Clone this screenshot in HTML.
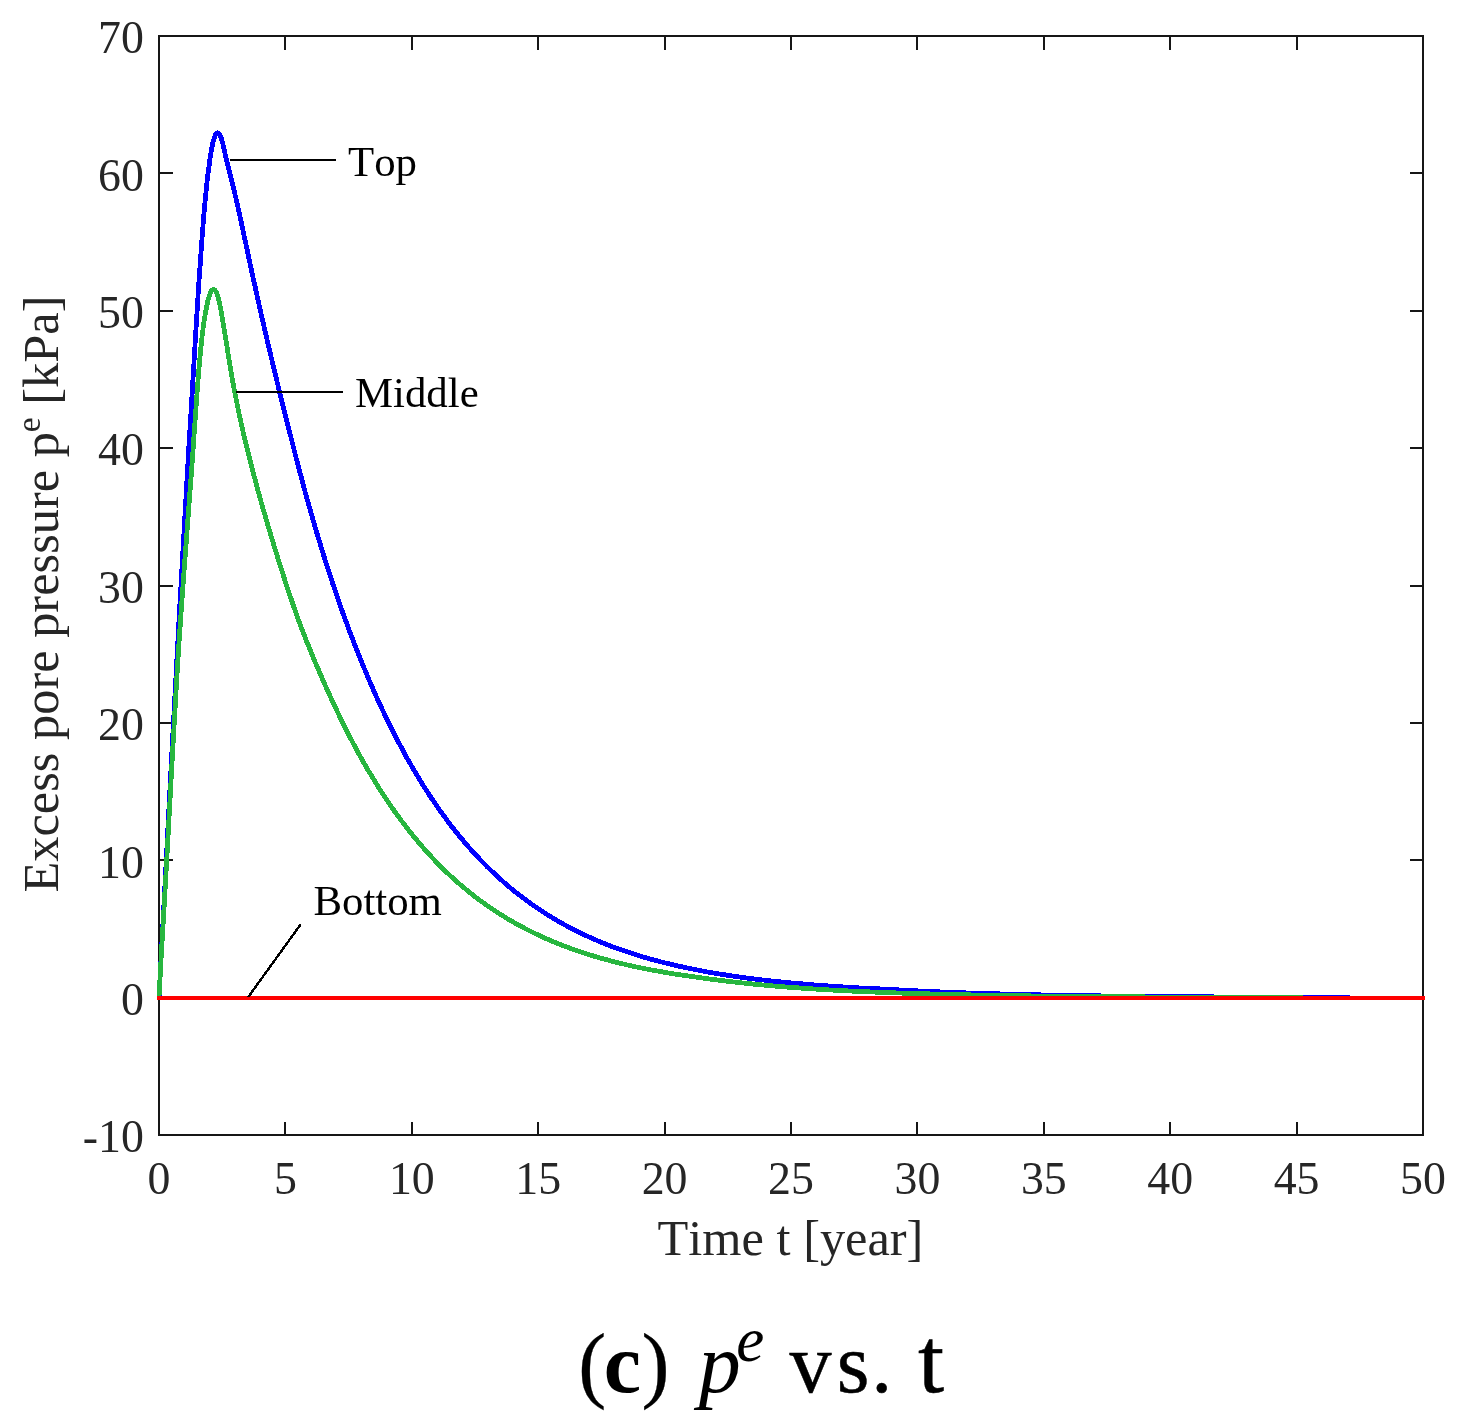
<!DOCTYPE html>
<html lang="en"><head><meta charset="utf-8"><title>(c) pe vs. t</title>
<style>
html,body{margin:0;padding:0;background:#fff}
body{width:1473px;height:1422px;overflow:hidden}
svg{display:block}
text{font-family:"Liberation Serif","Times New Roman",Times,serif;font-kerning:none}
.tk{font-size:45.83px;fill:#262626}
.lb{font-size:50.4px;fill:#262626}
.an{font-size:42.8px;fill:#000}
.cap{font-size:84px;fill:#000}
</style></head><body>
<svg width="1473" height="1422" viewBox="0 0 1473 1422">
<rect width="1473" height="1422" fill="#fff"/>
<g fill="none" stroke="#161616" stroke-width="2" shape-rendering="crispEdges">
<rect x="159" y="36" width="1264" height="1099"/>
<path d="M285.00,1135 v-12.9 M285.00,36 v13.9 M412.00,1135 v-12.9 M412.00,36 v13.9 M538.00,1135 v-12.9 M538.00,36 v13.9 M665.00,1135 v-12.9 M665.00,36 v13.9 M791.00,1135 v-12.9 M791.00,36 v13.9 M917.00,1135 v-12.9 M917.00,36 v13.9 M1044.00,1135 v-12.9 M1044.00,36 v13.9 M1170.00,1135 v-12.9 M1170.00,36 v13.9 M1297.00,1135 v-12.9 M1297.00,36 v13.9 M159,998.00 h13.9 M1423,998.00 h-12.9 M159,860.00 h13.9 M1423,860.00 h-12.9 M159,723.00 h13.9 M1423,723.00 h-12.9 M159,586.00 h13.9 M1423,586.00 h-12.9 M159,448.00 h13.9 M1423,448.00 h-12.9 M159,311.00 h13.9 M1423,311.00 h-12.9 M159,173.00 h13.9 M1423,173.00 h-12.9"/>
</g>
<g fill="none" stroke-width="4.8" stroke-linejoin="round" shape-rendering="crispEdges">
<path stroke="#0000ff" d="M159.0,997.6 161.5,949.8 164.1,901.7 166.6,853.6 169.1,805.4 171.6,757.4 174.2,709.8 176.7,662.9 179.2,616.8 181.8,571.5 184.3,527.0 186.8,483.2 189.3,440.0 191.9,397.4 194.4,355.4 196.9,314.0 197.4,306.0 197.9,298.0 198.4,290.1 198.9,282.3 199.4,274.7 200.0,267.2 200.5,259.8 201.0,252.6 201.5,245.6 202.0,238.8 202.5,232.1 203.0,225.7 203.5,219.5 204.0,213.6 204.5,207.8 205.0,202.3 205.5,197.0 206.0,191.9 206.5,187.0 207.0,182.3 207.5,177.8 208.0,173.5 208.5,169.5 209.1,165.6 209.6,161.9 210.1,158.4 210.6,155.0 211.1,151.9 211.6,149.0 212.1,146.4 212.6,144.0 213.1,141.8 213.6,139.9 214.1,138.2 214.6,136.8 215.1,135.6 215.6,134.6 216.1,133.9 216.6,133.4 217.1,133.1 217.6,132.9 218.2,133.0 218.7,133.3 219.2,133.8 219.7,134.5 220.2,135.5 220.7,136.7 221.2,138.0 221.7,139.6 222.2,141.4 222.7,143.3 223.2,145.4 223.7,147.5 224.2,149.7 224.7,152.0 225.2,154.2 225.7,156.5 226.2,158.7 226.8,160.8 227.3,162.9 227.8,165.0 228.3,167.0 228.8,169.0 229.3,171.1 229.8,173.0 230.3,175.0 230.8,177.0 231.3,179.0 231.8,181.0 232.3,183.1 232.8,185.1 233.3,187.2 233.8,189.3 234.3,191.4 234.8,193.6 235.3,195.7 235.9,197.9 236.4,200.1 236.9,202.4 237.4,204.6 237.9,206.9 238.4,209.1 238.9,211.4 239.4,213.7 239.9,216.0 240.4,218.3 240.9,220.7 241.4,223.0 241.9,225.4 242.4,227.7 242.9,230.1 243.4,232.5 243.9,234.8 244.4,237.2 245.0,239.6 247.5,251.5 250.0,263.4 252.5,275.2 255.1,286.7 257.6,298.1 260.1,309.4 262.6,320.5 265.2,331.5 267.7,342.4 270.2,353.1 272.8,363.8 275.3,374.3 277.8,384.7 280.3,395.0 282.9,405.2 285.4,415.4 287.9,425.5 290.5,435.5 293.0,445.5 295.5,455.4 298.0,465.2 300.6,474.8 303.1,484.3 305.6,493.7 308.2,502.8 310.7,511.8 313.2,520.6 315.7,529.2 318.3,537.7 320.8,546.0 323.3,554.2 325.8,562.2 328.4,570.2 330.9,578.0 333.4,585.6 336.0,593.1 338.5,600.5 341.0,607.7 343.5,614.8 346.1,621.7 348.6,628.6 351.1,635.3 353.7,641.9 356.2,648.5 358.7,654.9 361.2,661.2 363.8,667.3 366.3,673.4 368.8,679.4 371.4,685.3 373.9,691.0 376.4,696.7 378.9,702.3 381.5,707.8 384.0,713.1 386.5,718.4 389.0,723.6 391.6,728.7 394.1,733.7 396.6,738.6 399.2,743.5 401.7,748.2 404.2,752.9 406.7,757.5 409.3,762.0 411.8,766.4 414.3,770.7 416.9,775.0 419.4,779.2 421.9,783.3 424.4,787.3 427.0,791.3 429.5,795.2 432.0,799.0 434.6,802.7 437.1,806.4 439.6,810.0 442.1,813.6 444.7,817.0 447.2,820.5 449.7,823.8 452.2,827.1 454.8,830.3 457.3,833.5 459.8,836.6 462.4,839.7 468.7,847.1 475.0,854.1 481.3,860.8 487.6,867.2 494.0,873.3 500.3,879.1 506.6,884.7 512.9,890.0 519.2,895.0 525.6,899.8 531.9,904.4 538.2,908.7 544.5,912.9 550.8,916.8 557.2,920.6 563.5,924.2 569.8,927.6 576.1,930.8 582.4,933.9 588.8,936.9 595.1,939.7 601.4,942.3 607.7,944.9 614.0,947.3 620.4,949.6 626.7,951.7 633.0,953.8 639.3,955.8 645.6,957.7 652.0,959.5 658.3,961.2 664.6,962.8 670.9,964.3 677.2,965.8 683.6,967.2 689.9,968.5 696.2,969.8 702.5,971.0 708.8,972.2 715.2,973.3 721.5,974.3 727.8,975.3 734.1,976.2 740.4,977.1 746.8,978.0 753.1,978.8 759.4,979.6 765.7,980.3 772.0,981.0 778.4,981.7 784.7,982.3 791.0,982.9 797.3,983.5 803.6,984.0 810.0,984.6 816.3,985.1 822.6,985.5 828.9,986.0 835.2,986.4 841.6,986.8 847.9,987.2 854.2,987.6 860.5,988.0 866.8,988.3 873.2,988.6 879.5,988.9 885.8,989.2 892.1,989.5 898.4,989.9 904.8,990.2 911.1,990.5 917.4,990.9 923.7,991.2 930.0,991.5 936.4,991.8 942.7,992.0 949.0,992.3 955.3,992.5 961.6,992.7 968.0,993.0 974.3,993.2 980.6,993.4 986.9,993.6 993.2,993.8 999.6,993.9 1005.9,994.1 1012.2,994.3 1018.5,994.4 1024.8,994.6 1031.2,994.7 1037.5,994.8 1043.8,995.0 1050.1,995.1 1056.4,995.2 1062.8,995.3 1069.1,995.4 1075.4,995.5 1081.7,995.6 1088.0,995.7 1094.4,995.8 1100.7,995.9 1107.0,996.0 1113.3,996.0 1119.6,996.1 1126.0,996.2 1132.3,996.2 1138.6,996.3 1144.9,996.4 1151.2,996.4 1157.6,996.5 1163.9,996.5 1170.2,996.6 1176.5,996.6 1182.8,996.7 1189.2,996.7 1195.5,996.8 1201.8,996.8 1208.1,996.8 1214.4,996.9 1220.8,996.9 1227.1,996.9 1233.4,997.0 1239.7,997.0 1246.0,997.0 1252.4,997.1 1258.7,997.1 1265.0,997.1 1271.3,997.1 1277.6,997.1 1284.0,997.2 1290.3,997.2 1296.6,997.2 1302.9,997.2 1309.2,997.2 1315.6,997.3 1321.9,997.3 1328.2,997.3 1334.5,997.3 1340.8,997.3 1347.2,997.3 1349.7,997.3"/>
<path stroke="#27b63f" d="M159.0,997.6 161.5,951.3 164.1,906.8 166.6,862.4 169.1,816.7 171.6,769.9 174.2,723.5 176.7,679.6 179.2,639.5 181.8,602.6 184.3,567.8 186.8,534.2 189.3,500.6 191.9,466.2 194.4,430.3 196.9,395.1 197.4,388.4 197.9,381.8 198.4,375.4 198.9,369.2 199.4,363.2 200.0,357.5 200.5,352.0 201.0,346.7 201.5,341.8 202.0,337.2 202.5,332.9 203.0,329.0 203.5,325.3 204.0,321.9 204.5,318.6 205.0,315.6 205.5,312.7 206.0,310.0 206.5,307.4 207.0,304.9 207.5,302.5 208.0,300.3 208.5,298.3 209.1,296.5 209.6,294.9 210.1,293.5 210.6,292.3 211.1,291.4 211.6,290.6 212.1,290.1 212.6,289.7 213.1,289.5 213.6,289.4 214.1,289.6 214.6,289.9 215.1,290.3 215.6,291.0 216.1,291.9 216.6,293.0 217.1,294.3 217.6,295.8 218.2,297.6 218.7,299.5 219.2,301.7 219.7,304.0 220.2,306.5 220.7,309.0 221.2,311.7 221.7,314.5 222.2,317.4 222.7,320.3 223.2,323.3 223.7,326.3 224.2,329.4 224.7,332.6 225.2,335.7 225.7,338.9 226.2,342.1 226.8,345.3 227.3,348.6 227.8,351.8 228.3,354.9 228.8,358.1 229.3,361.2 229.8,364.3 230.3,367.4 230.8,370.4 231.3,373.3 231.8,376.2 232.3,379.1 232.8,381.9 233.3,384.7 233.8,387.4 234.3,390.1 234.8,392.7 235.3,395.4 235.9,397.9 236.4,400.5 236.9,403.0 237.4,405.5 237.9,407.9 238.4,410.3 238.9,412.7 239.4,415.1 239.9,417.4 240.4,419.7 240.9,422.0 241.4,424.3 241.9,426.5 242.4,428.7 242.9,430.9 243.4,433.1 243.9,435.3 244.4,437.4 245.0,439.6 247.5,450.1 250.0,460.2 252.5,470.1 255.1,479.7 257.6,489.1 260.1,498.2 262.6,507.2 265.2,516.0 267.7,524.6 270.2,533.1 272.8,541.5 275.3,549.8 277.8,558.0 280.3,566.1 282.9,574.0 285.4,581.9 287.9,589.6 290.5,597.1 293.0,604.5 295.5,611.7 298.0,618.8 300.6,625.6 303.1,632.3 305.6,638.8 308.2,645.2 310.7,651.4 313.2,657.5 315.7,663.5 318.3,669.4 320.8,675.2 323.3,680.9 325.8,686.6 328.4,692.2 330.9,697.8 333.4,703.3 336.0,708.7 338.5,714.0 341.0,719.3 343.5,724.5 346.1,729.5 348.6,734.5 351.1,739.4 353.7,744.2 356.2,749.0 358.7,753.6 361.2,758.2 363.8,762.7 366.3,767.1 368.8,771.4 371.4,775.6 373.9,779.8 376.4,783.9 378.9,788.0 381.5,791.9 384.0,795.8 386.5,799.6 389.0,803.4 391.6,807.0 394.1,810.6 396.6,814.2 399.2,817.7 401.7,821.1 404.2,824.4 406.7,827.7 409.3,831.0 411.8,834.1 414.3,837.3 416.9,840.3 419.4,843.3 421.9,846.2 424.4,849.1 427.0,852.0 429.5,854.7 432.0,857.5 434.6,860.2 437.1,862.8 439.6,865.4 442.1,867.9 444.7,870.4 447.2,872.8 449.7,875.2 452.2,877.5 454.8,879.8 457.3,882.1 459.8,884.3 462.4,886.4 468.7,891.7 475.0,896.7 481.3,901.4 487.6,905.9 494.0,910.2 500.3,914.3 506.6,918.2 512.9,921.9 519.2,925.4 525.6,928.8 531.9,932.0 538.2,935.0 544.5,937.9 550.8,940.7 557.2,943.3 563.5,945.8 569.8,948.1 576.1,950.4 582.4,952.5 588.8,954.5 595.1,956.5 601.4,958.3 607.7,960.0 614.0,961.7 620.4,963.3 626.7,964.8 633.0,966.2 639.3,967.6 645.6,968.8 652.0,970.1 658.3,971.2 664.6,972.3 670.9,973.4 677.2,974.4 683.6,975.3 689.9,976.2 696.2,977.1 702.5,978.0 708.8,978.9 715.2,979.7 721.5,980.5 727.8,981.3 734.1,982.0 740.4,982.8 746.8,983.4 753.1,984.1 759.4,984.7 765.7,985.3 772.0,985.8 778.4,986.4 784.7,986.9 791.0,987.4 797.3,987.8 803.6,988.3 810.0,988.7 816.3,989.1 822.6,989.5 828.9,989.9 835.2,990.2 841.6,990.6 847.9,990.9 854.2,991.2 860.5,991.5 866.8,991.8 873.2,992.0 879.5,992.3 885.8,992.5 892.1,992.8 898.4,993.0 904.8,993.2 911.1,993.4 917.4,993.6 923.7,993.8 930.0,993.9 936.4,994.1 942.7,994.3 949.0,994.4 955.3,994.6 961.6,994.7 968.0,994.8 974.3,995.0 980.6,995.1 986.9,995.2 993.2,995.3 999.6,995.4 1005.9,995.5 1012.2,995.6 1018.5,995.7 1024.8,995.8 1031.2,995.9 1037.5,996.0 1043.8,996.0 1050.1,996.1 1056.4,996.2 1062.8,996.2 1069.1,996.3 1075.4,996.4 1081.7,996.4 1088.0,996.5 1094.4,996.5 1100.7,996.6 1107.0,996.6 1113.3,996.7 1119.6,996.7 1126.0,996.8 1132.3,996.8 1138.6,996.8 1144.9,996.9 1151.2,996.9 1157.6,996.9 1163.9,997.0 1170.2,997.0 1176.5,997.0 1182.8,997.1 1189.2,997.1 1195.5,997.1 1201.8,997.1 1208.1,997.1 1214.4,997.2 1220.8,997.2 1227.1,997.2 1233.4,997.2 1239.7,997.2 1246.0,997.3 1252.4,997.3 1258.7,997.3 1265.0,997.3 1271.3,997.3 1277.6,997.3 1284.0,997.4 1290.3,997.4 1296.6,997.4 1302.9,997.4"/>
<path stroke="#ff0000" stroke-width="4" d="M157,998 H1425"/>
</g>
<g class="tk" text-anchor="middle">
<text x="159.0" y="1193.8">0</text>
<text x="285.4" y="1193.8">5</text>
<text x="411.8" y="1193.8">10</text>
<text x="538.2" y="1193.8">15</text>
<text x="664.6" y="1193.8">20</text>
<text x="791.0" y="1193.8">25</text>
<text x="917.4" y="1193.8">30</text>
<text x="1043.8" y="1193.8">35</text>
<text x="1170.2" y="1193.8">40</text>
<text x="1296.6" y="1193.8">45</text>
<text x="1423.0" y="1193.8">50</text>
</g>
<g class="tk" text-anchor="end">
<text x="143.8" y="1152.3">-10</text>
<text x="143.8" y="1014.9">0</text>
<text x="143.8" y="877.5">10</text>
<text x="143.8" y="740.2">20</text>
<text x="143.8" y="602.8">30</text>
<text x="143.8" y="465.4">40</text>
<text x="143.8" y="328.1">50</text>
<text x="143.8" y="190.7">60</text>
<text x="143.8" y="53.3">70</text>
</g>
<text class="lb" text-anchor="middle" x="790.5" y="1254.9">Time t [year]</text>
<text class="lb" text-anchor="middle" transform="translate(58,594) rotate(-90)">Excess pore pressure p<tspan font-size="33.5" dy="-17.8">e</tspan><tspan dy="17.8"> [kPa]</tspan></text>
<g stroke="#000" stroke-width="2" fill="none" shape-rendering="crispEdges"><path d="M230,160 H336"/><path d="M236,391.5 H343"/><path stroke-width="2.4" d="M300.8,924.2 L248.1,997.2"/></g>
<text class="an" x="348" y="176">Top</text>
<text class="an" x="355" y="407.4">Middle</text>
<text class="an" x="313.5" y="915.1">Bottom</text>
<g class="cap">
<text x="578.3" y="1391.5" stroke="#000" stroke-width="0.3">(<tspan font-weight="bold" dx="-2.6" stroke-width="0">c</tspan><tspan dx="0.5">)</tspan></text>
<text x="698.7" y="1391.5" font-style="italic">p<tspan font-size="63" dy="-31" dx="-4.5">e</tspan></text>
<text x="789.5" y="1391.5" stroke="#000" stroke-width="0.5">v<tspan dx="5.2">s</tspan><tspan dx="1.8">.</tspan></text>
<text x="918" y="1391.5" font-size="94" stroke="#000" stroke-width="0.5">t</text>
</g>
</svg></body></html>
